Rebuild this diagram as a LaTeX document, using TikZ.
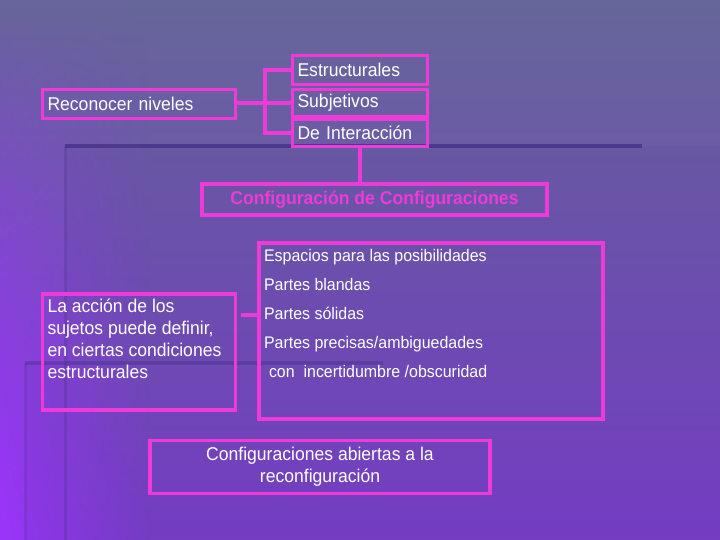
\documentclass[tikz,border=0pt]{standalone}
\usepackage{fontspec}
\setmainfont{Liberation Sans}[FakeStretch=0.95]
\usetikzlibrary{positioning,fadings}
\definecolor{rosa}{RGB}{238,58,214}
\definecolor{fondoA}{RGB}{102,102,153}
\definecolor{fondoB}{RGB}{120,62,200}
\definecolor{lila}{RGB}{158,52,255}
\definecolor{raya}{RGB}{70,50,135}

\begin{document}
\begin{tikzpicture}[x=1pt, y=-1pt, line width=3.5pt,
  box/.style = {draw=rosa, inner sep=5pt, text=white, font=\fontsize{18.5}{22}\selectfont},
  nivel/.style = {box, text width=125pt, minimum height=29pt, align=left},
  lista/.style = {draw=rosa, minimum width=344pt, minimum height=176pt},
  item/.style = {text=white, inner sep=0pt, align=left, font=\fontsize{16.8}{29}\selectfont},
  enlace/.style = {draw=rosa}]
  % fondo
  \useasboundingbox (0,0) rectangle (720,540);
  \fill[top color=fondoA, bottom color=fondoB] (0,0) rectangle (720,540);
  \foreach \i in {0,...,53}
    \fill[lila, opacity=\i/58, path fading=east] (0,\i*10) rectangle (150,\i*10+10);
  \fill[raya, opacity=0.08] (65,146) rectangle (720,540);
  \fill[raya, opacity=0.08] (25,363) rectangle (65,540);
  \draw[raya, line width=4pt, opacity=0.8] (65,146) -- (642,146);
  \draw[raya, line width=3pt, opacity=0.25] (65,146) -- (65,540);
  \draw[raya, line width=4pt, opacity=0.45] (25,363) -- (383,363);
  \draw[raya, line width=3pt, opacity=0.2] (25,363) -- (25,540);

  \node[box, text width=183pt, minimum height=29pt, align=left] (recon) at (139,104) {Reconocer niveles};
  \node[nivel] (est) at (360,70) {Estructurales};
  \node[nivel, minimum height=27pt] (subj) at (360,103) {Subjetivos};
  \node[nivel, minimum height=27pt] (inter) at (360,133) {De Interacción};
  \node[box, minimum width=345pt, minimum height=31pt, text=rosa, font=\fontsize{18.5}{22}\selectfont\bfseries] (config) at (374.5,199.5) {Configuración de Configuraciones};
  \node[lista] (esp) at (431,331) {};
  \node[item, anchor=north west] (partes) at ([xshift=5pt,yshift=-6pt]esp.north west)
    {Espacios para las posibilidades\\Partes blandas\\Partes sólidas\\Partes precisas/ambiguedades\\\hspace{5pt}con\ \ incertidumbre /obscuridad};
  \node[box] (accion) at (139,352)
    {\parbox[t][106pt][t]{183pt}{\raggedright La acción de los\\sujetos puede definir,\\en ciertas condiciones\\estructurales}};
  \node[box, minimum width=340pt, minimum height=53pt, align=center] (abiertas) at (320,467)
    {Configuraciones abiertas a la\\reconfiguración};

  \coordinate (brk) at (265,103);
  \coordinate (acc) at (241,315);
  \draw[enlace] (recon.east |- brk) -- (brk);
  \draw[enlace] (est.west) -| (brk) |- (inter.west);
  \draw[enlace] (brk) -- (brk -| subj.west);
  \draw[enlace] (inter.south) -- (inter.south |- config.north);
  \draw[enlace] (acc) -- (acc -| esp.west);
\end{tikzpicture}
\end{document}
